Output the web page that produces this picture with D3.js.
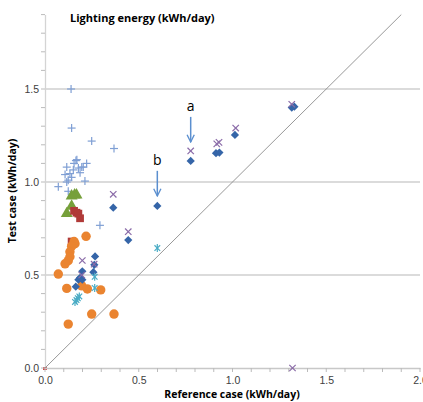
<!DOCTYPE html>
<html>
<head>
<meta charset="utf-8">
<script src="https://cdn.jsdelivr.net/npm/d3@7"></script>
<style>
body{margin:0;background:#fff;}
svg{font-family:"Open Sans",Calibri,sans-serif;}
.tick text{fill:#404040;font-size:10.5px;}
</style>
</head>
<body>
<svg id="grafico" width="423" height="402"></svg>
<script>
// dados (x = caso referencia, y = caso teste)
var pontosMais = [[0.139,1.50],[0.142,1.29],[0.249,1.22],[0.368,1.18],[0.165,1.115],[0.170,1.12],[0.222,1.10],
    [0.196,1.08],[0.116,1.08],[0.151,1.065],[0.178,1.075],[0.107,1.04],[0.133,1.045],[0.142,1.025],[0.124,1.01],
    [0.213,1.005],[0.071,0.975],[0.124,0.95],[0.116,1.0],[0.204,1.08],[0.187,1.05],[0.155,1.10],[0.293,0.767]];
var pontosX = [[0.777,1.167],[0.916,1.205],[0.928,1.213],[1.017,1.29],[1.316,1.418],[0.364,0.934],[0.444,0.733],
    [0.199,0.578],[0.262,0.558],[0.196,0.50],[1.32,0.0]];
var pontosLosango = [[0.267,0.60],[0.263,0.555],[0.199,0.52],[0.258,0.515],[0.187,0.485],[0.178,0.475],[0.199,0.475],
    [0.164,0.437],[0.364,0.862],[0.444,0.688],[0.599,0.871],[0.777,1.113],[0.912,1.155],[0.93,1.158],[1.013,1.253],
    [1.316,1.40],[1.33,1.405]];
var pontosAsterisco = [[0.599,0.645],[0.265,0.49],[0.265,0.43],[0.183,0.385],[0.175,0.375],[0.168,0.365],[0.16,0.355]];
var pontosCirculo = [[0.219,0.708],[0.155,0.68],[0.160,0.668],[0.142,0.655],[0.133,0.625],[0.133,0.598],[0.124,0.577],
    [0.107,0.56],[0.071,0.505],[0.116,0.428],[0.196,0.442],[0.226,0.425],[0.297,0.42],[0.249,0.29],[0.368,0.29],[0.124,0.236]];
var pontosQuadrado = [[0.142,0.68],[0.155,0.845],[0.168,0.835],[0.178,0.83],[0.187,0.805]];
var pontosOrigem = [[0.0,0.0]];
var pontosTriangulo = [[0.116,0.83],[0.142,0.87],[0.142,0.925],[0.158,0.93],[0.168,0.93]];
var setas = [{nome:"a",x:0.777,topo:1.35,fim:1.215},{nome:"b",x:0.599,topo:1.06,fim:0.925}];
var ticksMaiores = [0,0.5,1.0,1.5,2.0];
var ticksY = [0,0.5,1.0,1.5];

var svg = d3.select("#grafico");
var x = d3.scaleLinear().domain([0,2]).range([45,420]);
var y = d3.scaleLinear().domain([0,1.9]).range([368,14.6]);

// grade horizontal
svg.selectAll(".grade").data([0.5,1.0,1.5]).enter().append("line")
    .attr("x1", x(0)).attr("x2", x(2))
    .attr("y1", function(d){return y(d);}).attr("y2", function(d){return y(d);})
    .style("stroke","#cfcfcf").style("stroke-width",1.3);

// ponto vermelho na origem (parcialmente escondido)
svg.append("g").selectAll("rect").data(pontosOrigem).enter().append("rect")
    .attr("x",function(d){return x(d[0])-2;}).attr("y",function(d){return y(d[1])-1;})
    .attr("width",4).attr("height",3).style("fill","#d04545");

// eixos
var eixoX = d3.axisBottom(x).tickValues(ticksMaiores).tickFormat(d3.format(".1f")).tickSize(0).tickPadding(9);
var gx = svg.append("g").attr("transform","translate(0,"+y(0)+")").call(eixoX);
gx.select(".domain").style("stroke","#c8c8c8").style("stroke-width",1.3);
gx.append("g").selectAll("line").data(d3.range(0,2.001,0.1)).enter().append("line")
    .attr("x1",function(d){return x(d);}).attr("x2",function(d){return x(d);})
    .attr("y1",0).attr("y2",4).style("stroke","#bbbbbb");

var eixoY = d3.axisLeft(y).tickValues(ticksY).tickFormat(d3.format(".1f")).tickSize(0).tickPadding(6);
var gy = svg.append("g").attr("transform","translate("+x(0)+",0)").call(eixoY);
gy.select(".domain").style("stroke","#d4d4d4").style("stroke-width",1.3);
gy.append("g").selectAll("line").data(d3.range(0,1.901,0.1)).enter().append("line")
    .attr("y1",function(d){return y(d);}).attr("y2",function(d){return y(d);})
    .attr("x1",0).attr("x2",-4).style("stroke","#bbbbbb");

// linha 1:1
svg.append("line")
    .attr("x1",x(0)).attr("y1",y(0)).attr("x2",x(1.9)).attr("y2",y(1.9))
    .style("stroke","#8c8c8c").style("stroke-width",0.9);

// series
function desenhaSimbolo(dados, tipo, tamanho, cor, giro){
    svg.append("g").selectAll("path").data(dados).enter().append("path")
        .attr("transform",function(d){return "translate("+x(d[0])+","+y(d[1])+") rotate("+(giro||0)+")";})
        .attr("d", d3.symbol().type(tipo).size(tamanho))
        .style("fill",cor);
}
function desenhaCruz(dados, angulos, r, cor){
    var g = svg.append("g").selectAll("g").data(dados).enter().append("g")
        .attr("transform",function(d){return "translate("+x(d[0])+","+y(d[1])+")";});
    angulos.forEach(function(a){
        g.append("line").attr("x1",-r).attr("x2",r).attr("y1",0).attr("y2",0)
            .attr("transform","rotate("+a+")")
            .style("stroke",cor).style("stroke-width",1.2);
    });
}
desenhaCruz(pontosMais,[0,90],4,"#7f9fd4");
desenhaSimbolo(pontosTriangulo, d3.symbolTriangle, 62, "#76a03a");
desenhaSimbolo(pontosQuadrado, d3.symbolSquare, 60, "#b03a38");
desenhaSimbolo(pontosCirculo, d3.symbolCircle, 70, "#ea8430");
desenhaSimbolo(pontosLosango, d3.symbolSquare, 34, "#3565a8", 45);
desenhaCruz(pontosX,[45,-45],4.5,"#8a6ba8");
desenhaCruz(pontosAsterisco,[45,-45,90],4,"#4aacc5");

// setas a e b
svg.append("defs").append("marker").attr("id","ponta")
    .attr("viewBox","0 0 10 10").attr("refX",9).attr("refY",5)
    .attr("markerWidth",6).attr("markerHeight",6).attr("orient","auto")
  .append("path").attr("d","M1,1 L9,5 L1,9").style("fill","none").style("stroke","#5b8fcf").style("stroke-width",1.5);
svg.selectAll(".seta").data(setas).enter().append("line")
    .attr("x1",function(d){return x(d.x);}).attr("x2",function(d){return x(d.x);})
    .attr("y1",function(d){return y(d.topo);}).attr("y2",function(d){return y(d.fim);})
    .style("stroke","#5b8fcf").style("stroke-width",1.5).attr("marker-end","url(#ponta)");
svg.selectAll(".rotulo").data(setas).enter().append("text")
    .attr("x",function(d){return x(d.x);}).attr("y",function(d){return y(d.topo)-6;})
    .attr("text-anchor","middle").style("font-size","14px").style("fill","#000")
    .text(function(d){return d.nome;});

// titulos
svg.append("text").attr("x",70).attr("y",22).style("font-size","11px").style("font-weight","bold")
    .text("Lighting energy (kWh/day)");
svg.append("text").attr("x",232).attr("y",398).attr("text-anchor","middle")
    .style("font-size","10.5px").style("font-weight","bold").text("Reference case (kWh/day)");
svg.append("text").attr("transform","translate(16,191) rotate(-90)").attr("text-anchor","middle")
    .style("font-size","10.5px").style("font-weight","bold").text("Test case (kWh/day)");
</script>
</body>
</html>
